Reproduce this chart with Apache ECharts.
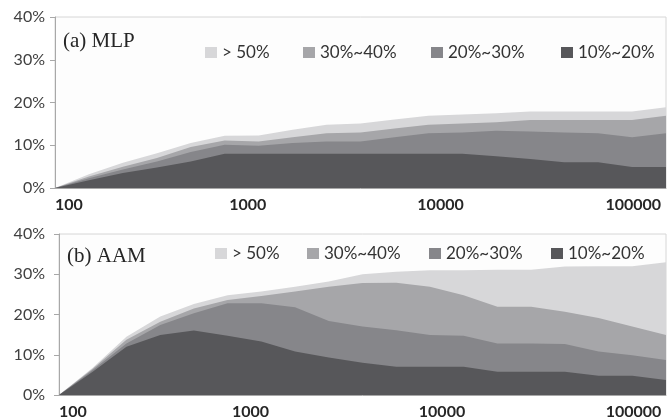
<!DOCTYPE html>
<html>
<head>
<meta charset="utf-8">
<script src="https://cdn.jsdelivr.net/npm/echarts@6/dist/echarts.min.js"></script>
<style>
  html, body { margin: 0; padding: 0; background: #ffffff; }
  #chart { width: 669px; height: 420px; }
</style>
</head>
<body>
<div id="chart"></div>
<script>
// Number of samples (log-spaced x positions)
const sampleSizes = [100, 150, 225, 338, 506, 759, 1139, 1709, 2563, 3844, 5767, 8650, 12975, 19462, 29193, 43789, 65684, 98526, 147789];
const xTickValues = [100, 1000, 10000, 100000];
const yTickValues = [0, 10, 20, 30, 40];

// Stacked bands, bottom to top
const bandNames = ['10%~20%', '20%~30%', '30%~40%', '> 50%'];
const legendOrder = ['> 50%', '30%~40%', '20%~30%', '10%~20%'];
const panelTitles = ['(a) MLP', '(b) AAM'];

// (a) MLP — share of cases per band (%)
const mlp10to20 = [0, 1.8, 3.5, 4.8, 6.2, 8.0, 8.0, 8.0, 8.0, 8.0, 8.0, 8.0, 8.0, 7.4, 6.8, 6.0, 6.0, 4.9, 4.9];
const mlp20to30 = [0, 0.5, 0.8, 1.4, 2.2, 2.1, 1.9, 2.5, 2.9, 2.9, 3.9, 4.8, 5.0, 6.0, 6.4, 7.0, 6.8, 7.0, 7.9];
const mlp30to40 = [0, 0.4, 0.7, 0.8, 1.2, 1.0, 1.0, 1.4, 1.9, 2.1, 2.0, 2.0, 2.1, 2.0, 2.7, 2.9, 3.1, 4.0, 4.1];
const mlpOver50 = [0, 0.5, 0.9, 1.1, 0.9, 1.1, 1.4, 1.7, 2.0, 2.1, 2.1, 2.1, 2.1, 2.1, 2.0, 2.0, 2.0, 2.0, 2.0];

// (b) AAM — share of cases per band (%)
const aam10to20 = [0, 5.8, 12.0, 14.9, 16.0, 14.7, 13.3, 10.8, 9.3, 8.0, 7.0, 7.0, 7.0, 5.8, 5.8, 5.8, 4.8, 4.8, 3.7];
const aam20to30 = [0, 0.4, 0.8, 2.5, 4.3, 8.1, 9.5, 11.0, 9.1, 9.0, 9.1, 7.9, 7.7, 7.0, 7.0, 6.9, 6.0, 5.1, 5.0];
const aam30to40 = [0, 0.3, 0.9, 0.8, 1.2, 0.8, 1.8, 3.9, 8.5, 10.8, 11.8, 12.0, 10.1, 9.1, 9.1, 8.0, 8.3, 7.1, 6.2];
const aamOver50 = [0, 0.3, 0.8, 1.3, 1.1, 1.2, 1.1, 1.2, 1.3, 2.2, 2.7, 4.1, 6.2, 9.2, 9.2, 11.2, 12.9, 15.0, 18.1];

const panels = [
  [mlp10to20, mlp20to30, mlp30to40, mlpOver50],
  [aam10to20, aam20to30, aam30to40, aamOver50]
];

const bandColors = {
  '10%~20%': '#57575a',
  '20%~30%': '#86868a',
  '30%~40%': '#a6a6a9',
  '> 50%': '#d7d7d9'
};

// Layout of each panel
const grids = [
  { left: 55, right: 1, top: 17, height: 171 },
  { left: 59, right: 1, top: 234, height: 161 }
];
const yLabelMargins = [10, 14];
const titleTops = [31, 246];
const titleLefts = [63, 67];
const legendTops = [44, 245];
const legendLefts = [[205, 303, 431, 561], [215, 307, 429, 551]];

const sansFont = 'Lato, "Open Sans", "Liberation Sans", sans-serif';

const xAxes = grids.map((g, i) => ({
  type: 'log',
  gridIndex: i,
  logBase: 10,
  min: sampleSizes[0],
  max: sampleSizes[sampleSizes.length - 1],
  axisLine: { show: true, lineStyle: { color: '#a8a8a8', width: 1 } },
  axisTick: { show: false },
  splitLine: { show: false },
  minorTick: { show: false },
  axisLabel: {
    show: true,
    margin: 9,
    fontFamily: sansFont,
    fontSize: 16,
    fontWeight: 'bold',
    color: '#262626',
    alignMinLabel: 'left',
    formatter: (v) => {
      const hit = xTickValues.find(t => Math.abs(Math.log10(v) - Math.log10(t)) < 1e-6);
      return hit ? String(hit) : '';
    }
  }
}));

const yAxes = grids.map((g, i) => ({
  type: 'value',
  gridIndex: i,
  min: yTickValues[0],
  max: yTickValues[yTickValues.length - 1],
  interval: yTickValues[1] - yTickValues[0],
  axisLine: { show: true, lineStyle: { color: '#a8a8a8', width: 1 } },
  axisTick: { show: true, length: 5, lineStyle: { color: '#a8a8a8' } },
  splitLine: { show: false },
  axisLabel: {
    margin: yLabelMargins[i],
    fontFamily: sansFont,
    fontSize: 16,
    color: '#404040',
    formatter: '{value}%'
  }
}));

// Each band is drawn as an opaque area from the axis up to its running total;
// the highest total goes first so lower bands paint over it.
const series = [];
panels.forEach((bands, p) => {
  const totals = [];
  let running = sampleSizes.map(() => 0);
  bands.forEach((values) => {
    running = running.map((r, k) => r + values[k]);
    totals.push(running);
  });
  for (let b = bands.length - 1; b >= 0; b--) {
    const name = bandNames[b];
    series.push({
      name: name,
      type: 'line',
      xAxisIndex: p,
      yAxisIndex: p,
      symbol: 'none',
      smooth: false,
      silent: true,
      lineStyle: { width: 0 },
      itemStyle: { color: bandColors[name] },
      areaStyle: { color: bandColors[name], opacity: 1, origin: 'start' },
      data: sampleSizes.map((x, k) => [x, +totals[b][k].toFixed(2)])
    });
  }
});

const legends = [];
legendLefts.forEach((lefts, p) => {
  legendOrder.forEach((name, j) => {
    legends.push({
      data: [name],
      left: lefts[j],
      top: legendTops[p],
      padding: 0,
      icon: 'rect',
      itemWidth: 12,
      itemHeight: 11,
      itemGap: 5,
      selectedMode: false,
      textStyle: { fontFamily: sansFont, fontSize: 17, color: '#333333', padding: [0, 0, 0, 0] }
    });
  });
});

const titles = panelTitles.map((t, i) => ({
  text: t,
  left: titleLefts[i],
  top: titleTops[i],
  padding: 0,
  textStyle: {
    fontFamily: '"Liberation Serif", "DejaVu Serif", serif',
    fontSize: 21,
    fontWeight: 'normal',
    color: '#262626'
  }
}));

const chart = echarts.init(document.getElementById('chart'), null, { renderer: 'canvas' });
chart.setOption({
  backgroundColor: '#ffffff',
  animation: false,
  title: titles,
  legend: legends,
  grid: grids.map(g => Object.assign({ show: true, borderColor: '#d6d6d6', borderWidth: 1, backgroundColor: '#fdfdfd' }, g)),
  xAxis: xAxes,
  yAxis: yAxes,
  series: series
});
</script>
</body>
</html>
